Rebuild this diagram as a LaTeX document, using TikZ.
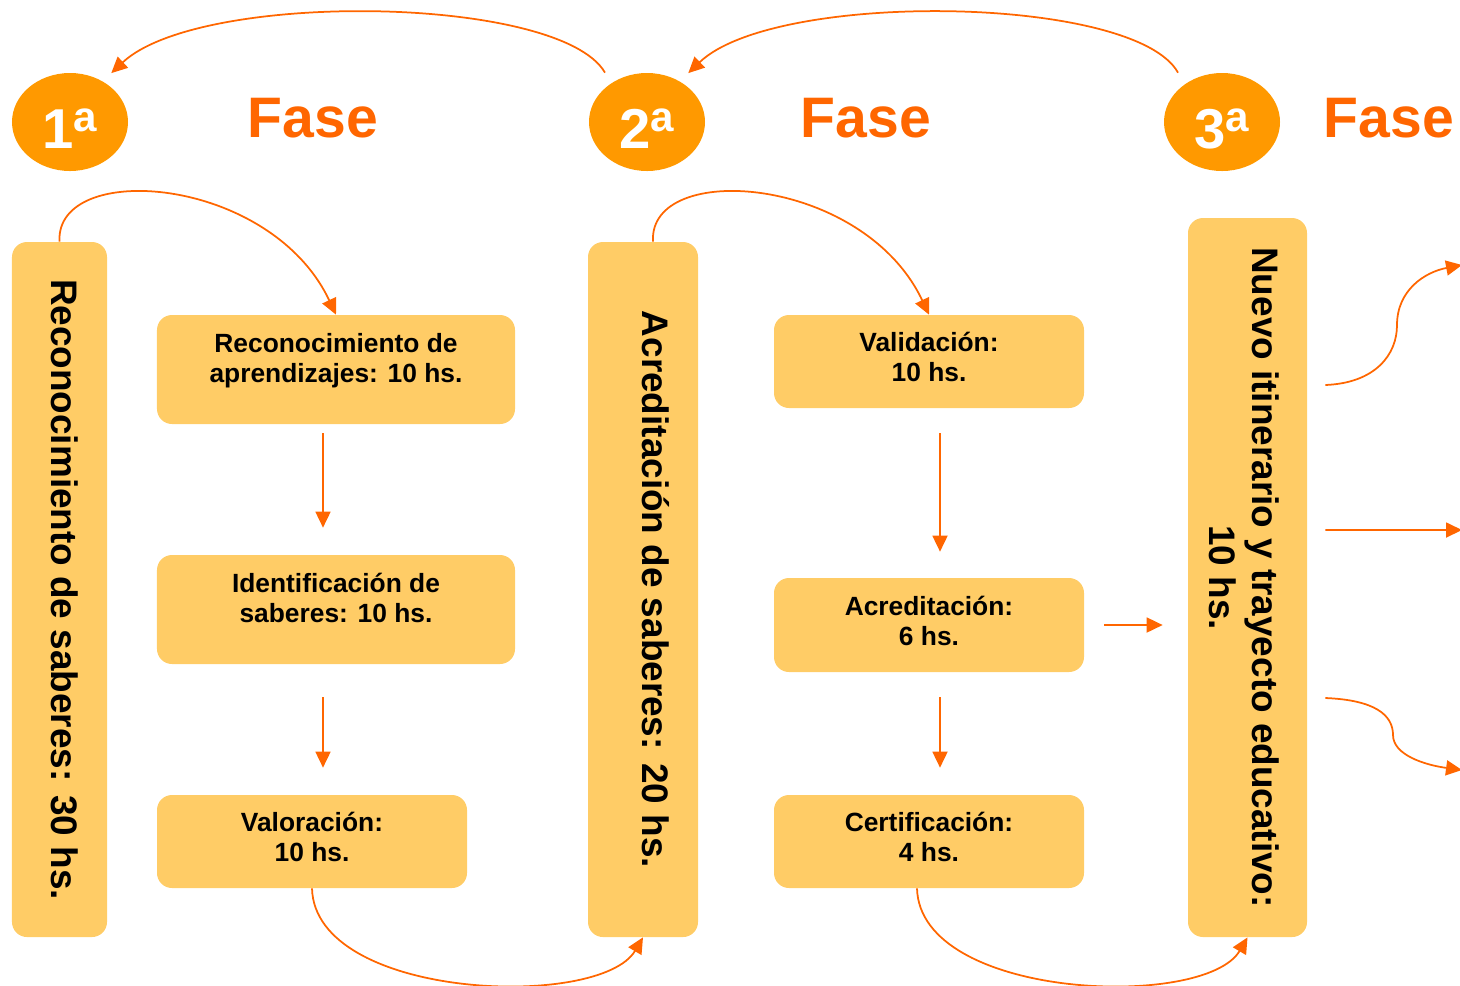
\documentclass[tikz,border=0pt]{standalone}
\usepackage{fontspec}
\setmainfont{Liberation Sans}
\usepackage{graphicx}
\usepackage{tikz}
\usetikzlibrary{shapes.geometric, arrows.meta}

\definecolor{naranja}{HTML}{FF6600}
\definecolor{ambar}{HTML}{FF9900}
\definecolor{crema}{HTML}{FFCC66}

\newcommand{\doslineas}[2]{\begin{tabular}[t]{@{}c@{}}#1\\#2\end{tabular}}
\newcommand{\vertical}[2]{\rotatebox{-90}{\raisebox{#1}[\height][\depth]{#2}}}

\tikzset{
  fase/.style={ellipse, fill=ambar, text=white, inner sep=0pt,
    minimum width=23.2mm, minimum height=19.6mm,
    font=\bfseries\fontsize{32}{32}\selectfont, text height=30.6pt, text depth=0pt},
  titulo/.style={anchor=base, text=naranja, font=\bfseries\fontsize{32.5}{32.5}\selectfont},
  barra/.style={fill=crema, rounded corners=3mm, inner sep=0pt,
    font=\bfseries\fontsize{21}{24.5}\selectfont},
  caja/.style={fill=crema, rounded corners=3mm, inner sep=0pt,
    font=\bfseries\fontsize{15}{17}\selectfont, text height=11pt, text depth=22pt},
  cajaalta/.style={caja, text depth=30pt},
  flecha/.style={->, naranja, line width=0.35mm},
}

\begin{document}
\begin{tikzpicture}[x=0.2mm, y=-0.2mm, >={Triangle[length=3.2mm,width=3mm]}]
    \useasboundingbox (0,0) rectangle (1460,985); %画布
    % 三个阶段
    \node[fase] (f1) at (70,122) {1\raisebox{10pt}{\fontsize{24}{24}\selectfont a}};
    \node[titulo] (t1) at (313,137) {Fase};
    \node[fase] (f2) at (647,122) {2\raisebox{10pt}{\fontsize{24}{24}\selectfont a}};
    \node[titulo] (t2) at (866,137) {Fase};
    \node[fase] (f3) at (1222,122) {3\raisebox{10pt}{\fontsize{24}{24}\selectfont a}};
    \node[titulo] (t3) at (1389,137) {Fase};
    \draw[flecha] ([xshift=-8.4mm]f2.north) .. controls (560,-5) and (200,-10) .. ([yshift=2.8mm]f1.north east);
    \draw[flecha] ([xshift=-8.8mm]f3.north) .. controls (1135,-5) and (775,-10) .. ([yshift=2.8mm]f2.north east);
    % 竖条
    \node[barra, minimum width=19mm, minimum height=139mm] (b1) at (59.5,589.5)
        {\vertical{2.8pt}{Reconocimiento de saberes: 30 hs.}};
    \node[barra, minimum width=22mm, minimum height=139mm] (b2) at (643,589.5)
        {\vertical{7.4pt}{Acreditación de saberes: 20 hs.}};
    \node[barra, minimum width=23.8mm, minimum height=143.8mm] (b3) at (1247.5,577.5)
        {\vertical{-4.5pt}{\begin{tabular}{@{}c@{}}Nuevo itinerario y trayecto educativo:\\10 hs.\end{tabular}}};
    % 第一列
    \node[cajaalta, minimum width=71.6mm, minimum height=21.8mm] (rA) at (336,369.5)
        {\doslineas{Reconocimiento de}{aprendizajes: 10 hs.}};
    \node[cajaalta, minimum width=71.6mm, minimum height=21.8mm] (rB) at (336,609.5)
        {\doslineas{Identificación de}{saberes: 10 hs.}};
    \node[caja, minimum width=62mm, minimum height=18.6mm] (rC) at (312,841.5)
        {\doslineas{Valoración:}{10 hs.}};
    % 第二列
    \node[caja, minimum width=62mm, minimum height=18.6mm] (rD) at (929,361.5)
        {\doslineas{Validación:}{10 hs.}};
    \node[caja, minimum width=62mm, minimum height=18.8mm] (rE) at (929,625)
        {\doslineas{Acreditación:}{6 hs.}};
    \node[caja, minimum width=62mm, minimum height=18.6mm] (rF) at (929,841.5)
        {\doslineas{Certificación:}{4 hs.}};
    % 连线
    \draw[flecha] (b1.north) .. controls (55,160) and (270,175) .. (rA.north);
    \draw[flecha] ([xshift=2mm]b2.north) .. controls (648,160) and (863,175) .. (rD.north);
    \draw[flecha] ([shift={(-2.6mm,-1.8mm)}]rA.south) -- ([shift={(-2.6mm,5.4mm)}]rB.north);
    \draw[flecha] ([shift={(-2.6mm,-6.6mm)}]rB.south) -- ([shift={(-2.6mm,5.4mm)}]rB.south |- rC.north);
    \draw[flecha] ([shift={(2.2mm,-5mm)}]rD.south) -- ([shift={(2.2mm,5.2mm)}]rE.north);
    \draw[flecha] ([shift={(2.2mm,-5mm)}]rE.south) -- ([shift={(2.2mm,5.4mm)}]rF.north);
    \draw[flecha] ([xshift=4mm]rE.east) -- ([xshift=-5mm]b3.west |- rE.east);
    \draw[flecha] (rC.south) .. controls (315,1000) and (600,1010) .. (b2.south);
    \draw[flecha] ([xshift=-2.4mm]rF.south) .. controls (920,1000) and (1205,1010) .. (b3.south);
    % 右侧出口
    \coordinate (s1) at (1462,265);
    \coordinate (s2) at (1462,530);
    \coordinate (s3) at (1462,770);
    \draw[flecha] ([shift={(3.6mm,38.5mm)}]b3.east) .. controls (1375,383) and (1397,355) .. (1397,325)
        .. controls (1397,290) and (1425,272) .. (s1);
    \draw[flecha] ([shift={(3.6mm,9.5mm)}]b3.east) -- (s2);
    \draw[flecha] ([shift={(3.6mm,-24.1mm)}]b3.east) .. controls (1375,700) and (1393,715) .. (1393,735)
        .. controls (1393,755) and (1425,765) .. (s3);
\end{tikzpicture}
\end{document}
